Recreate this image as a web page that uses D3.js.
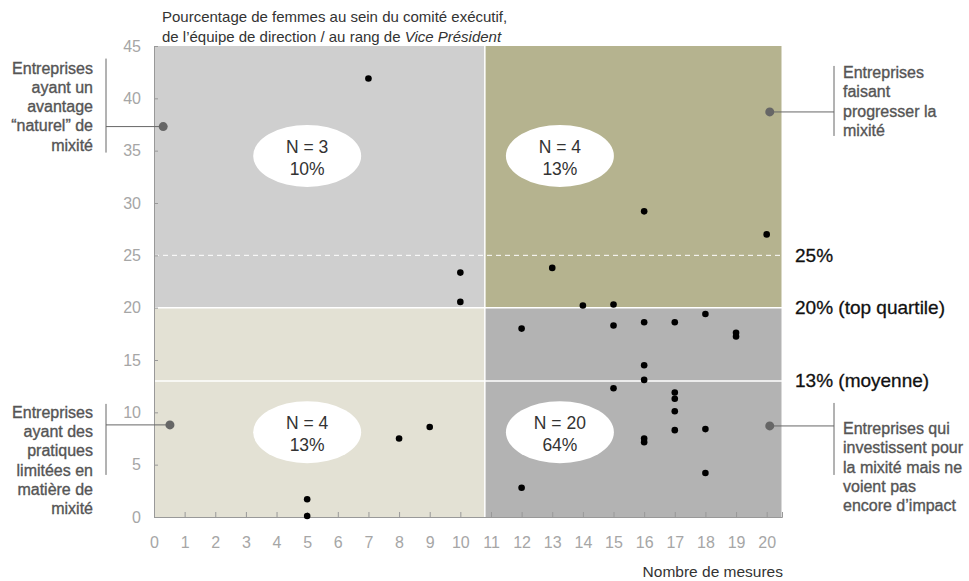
<!DOCTYPE html>
<html lang="fr">
<head>
    <meta charset="UTF-8">
    <title>Mixité</title>
    <script src="https://d3js.org/d3.v7.min.js"></script>
    <style>
        body { margin: 0; background: #fff; font-family: 'Liberation Sans', Arial, sans-serif; }
        .tick text { fill: #a6a6a6; font-size: 16px; }
        .sideLabel { fill: #555; font-size: 16px; stroke: #555; stroke-width: 0.35px; }
        .refLabel { fill: #111; font-size: 19px; stroke: #111; stroke-width: 0.3px; }
    </style>
</head>
<body>
<div id="chart"></div>
<script>
// nombre de mesures / % de femmes
const xValues = [7, 10, 10, 13, 16, 20, 14, 15, 12, 15, 16, 17, 18, 19, 19, 16, 16, 15, 17, 17, 17, 16, 16, 17, 18, 18, 12, 8, 9, 5, 5];
const yValues = [41.9, 23.35, 20.55, 23.8, 29.2, 27.0, 20.2, 20.3, 18.0, 18.3, 18.6, 18.6, 19.4, 17.6, 17.25, 14.5, 13.1, 12.3, 11.9, 11.3, 10.1, 7.5, 7.15, 8.3, 8.4, 4.2, 2.8, 7.5, 8.6, 1.7, 0.1];

const xTicks = d3.range(0, 21);
const yTicks = [0, 5, 10, 15, 20, 25, 30, 35, 40, 45];

// seuils
const splitX = 10.8;
const topQuartile = 20;
const moyenne = 13;
const dashedLevel = 25;

const quadrants = [
    {x0: 0, x1: splitX, y0: topQuartile, y1: 45, color: '#cfcfcf', n: 'N = 3', pct: '10%'},
    {x0: splitX, x1: 20.5, y0: topQuartile, y1: 45, color: '#b5b38f', n: 'N = 4', pct: '13%'},
    {x0: 0, x1: splitX, y0: 0, y1: topQuartile, color: '#e3e1d4', n: 'N = 4', pct: '13%'},
    {x0: splitX, x1: 20.5, y0: 0, y1: topQuartile, color: '#b3b3b3', n: 'N = 20', pct: '64%'}
];
const bubbleX = [5, 13.25];
const bubbleY = [34.5, 8.1];

const refLabels = [
    {v: 25, text: '25%'},
    {v: 20, text: '20% (top quartile)'},
    {v: 13, text: '13% (moyenne)'}
];

// top/bot = extent of the bar, first = first baseline, relative to the dot
const callouts = [
    {side: 'left', x: 0.3, y: 37.3, top: -68, bot: 26, first: -53, lines: ['Entreprises', 'ayant un', 'avantage', '\u201cnaturel\u201d de', 'mixité']},
    {side: 'left', x: 0.52, y: 8.8, top: -21, bot: 50, first: -7, lines: ['Entreprises', 'ayant des', 'pratiques', 'limitées en', 'matière de', 'mixité']},
    {side: 'right', x: 20.1, y: 38.7, top: -46, bot: 24, first: -34, lines: ['Entreprises', 'faisant', 'progresser la', 'mixité']},
    {side: 'right', x: 20.1, y: 8.7, top: -23, bot: 49, first: 8, lines: ['Entreprises qui', 'investissent pour', 'la mixité mais ne', 'voient pas', 'encore d\u2019impact']}
];

const width = 969, height = 581;
const svg = d3.select('#chart').append('svg')
    .attr('width', width)
    .attr('height', height);

const x = d3.scaleLinear().domain([0, 20.5]).range([154, 782]);
const y = d3.scaleLinear().domain([0, 45]).range([517, 46]);

// fonds des quadrants
svg.selectAll('rect.quad')
    .data(quadrants)
    .enter()
    .append('rect')
    .attr('class', 'quad')
    .attr('x', d => x(d.x0))
    .attr('y', d => y(d.y1))
    .attr('width', d => x(d.x1) - x(d.x0))
    .attr('height', d => y(d.y0) - y(d.y1))
    .attr('fill', d => d.color);

// lignes blanches
svg.append('line')
    .attr('x1', x(splitX)).attr('x2', x(splitX))
    .attr('y1', y(45)).attr('y2', y(0))
    .attr('stroke', '#fff').attr('stroke-width', 1.5);
[topQuartile, moyenne].forEach(v => {
    svg.append('line')
        .attr('x1', x(0)).attr('x2', x(20.5))
        .attr('y1', y(v)).attr('y2', y(v))
        .attr('stroke', '#fff').attr('stroke-width', 1.5);
});
svg.append('line')
    .attr('x1', x(0)).attr('x2', x(20.5))
    .attr('y1', y(dashedLevel)).attr('y2', y(dashedLevel))
    .attr('stroke', '#fff').attr('stroke-width', 1)
    .attr('stroke-dasharray', '5,4');
svg.append('line')
    .attr('x1', x(20.5)).attr('x2', x(20.5))
    .attr('y1', y(45)).attr('y2', y(0))
    .attr('stroke', '#fff').attr('stroke-width', 1);

// axes
const yAxis = svg.append('g')
    .attr('transform', `translate(${x(0)},0)`)
    .call(d3.axisRight(y).tickValues(yTicks).tickSize(4).tickFormat(d3.format('d')));
yAxis.selectAll('text').attr('x', -13).attr('text-anchor', 'end');
const xAxis = svg.append('g')
    .attr('transform', `translate(0,${y(0)})`)
    .call(d3.axisTop(x).tickValues(xTicks).tickSize(5).tickFormat(d3.format('d')));
xAxis.selectAll('text').attr('y', 31).attr('dy', 0);
svg.selectAll('.domain, .tick line').attr('stroke', '#999');

// bulles
svg.selectAll('g.bubble')
    .data(quadrants)
    .enter()
    .append('g')
    .attr('class', 'bubble')
    .each(function(d, i) {
        const cx = x(bubbleX[i % 2]);
        const cy = y(bubbleY[Math.floor(i / 2)]);
        const g = d3.select(this);
        g.append('ellipse').attr('cx', cx).attr('cy', cy).attr('rx', 54).attr('ry', 31).attr('fill', '#fff');
        g.append('text').attr('x', cx).attr('y', cy - 3).attr('text-anchor', 'middle')
            .attr('fill', '#333').style('font-size', '17.5px').text(d.n);
        g.append('text').attr('x', cx).attr('y', cy + 19).attr('text-anchor', 'middle')
            .attr('fill', '#333').style('font-size', '17.5px').text(d.pct);
    });

// points
svg.selectAll('circle.pt')
    .data(xValues.map((v, i) => [v, yValues[i]]))
    .enter()
    .append('circle')
    .attr('class', 'pt')
    .attr('cx', d => x(d[0]))
    .attr('cy', d => y(d[1]))
    .attr('r', 3.3)
    .attr('fill', '#000');

// étiquettes de droite
svg.selectAll('text.refLabel')
    .data(refLabels)
    .enter()
    .append('text')
    .attr('class', 'refLabel')
    .attr('x', 795)
    .attr('y', d => y(d.v) + 6.5)
    .text(d => d.text);

// annotations latérales
callouts.forEach(c => {
    const px = x(c.x), py = y(c.y);
    const lineH = 19.3;
    const barX = c.side === 'left' ? 106 : 834;
    svg.append('line').attr('x1', px).attr('x2', barX).attr('y1', py).attr('y2', py)
        .attr('stroke', '#666').attr('stroke-width', 1);
    svg.append('line').attr('x1', barX).attr('x2', barX)
        .attr('y1', py + c.top)
        .attr('y2', py + c.bot)
        .attr('stroke', '#666').attr('stroke-width', 1);
    svg.append('circle').attr('cx', px).attr('cy', py).attr('r', 4.5).attr('fill', '#666');
    const t = svg.append('text').attr('class', 'sideLabel')
        .attr('text-anchor', c.side === 'left' ? 'end' : 'start');
    c.lines.forEach((l, i) => {
        t.append('tspan').attr('x', c.side === 'left' ? 93 : 843)
            .attr('y', py + c.first + i * lineH).text(l);
    });
});

// titres
const title = svg.append('text').attr('fill', '#333').style('font-size', '15px');
title.append('tspan').attr('x', 162).attr('y', 22).text('Pourcentage de femmes au sein du comité exécutif,');
const t2 = title.append('tspan').attr('x', 162).attr('y', 42);
t2.text('de l\u2019équipe de direction / au rang de ');
title.append('tspan').style('font-style', 'italic').text('Vice Président');

svg.append('text').attr('x', 783).attr('y', 577).attr('text-anchor', 'end')
    .attr('fill', '#333').style('font-size', '15.5px').text('Nombre de mesures');
</script>
</body>
</html>
